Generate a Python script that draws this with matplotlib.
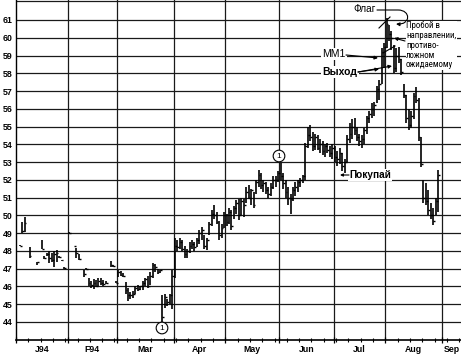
import numpy as np
import pandas as pd
import matplotlib
matplotlib.use("Agg")
import matplotlib.pyplot as plt
from matplotlib.path import Path
from matplotlib.patches import FancyArrowPatch
from matplotlib import font_manager

nan = np.nan

# ---- data: daily bars indexed by trading day (weekdays from 3 Jan 1994) ----
high = [nan, 48.35, 49.6, 49.9, nan, 48.2, nan, nan, 47.4, nan,
        48.6, 47.7, 47.9, 48.0, 47.9, 48.0, 48.05, 47.7, 47.5, 47.1,
        nan, 49.05, nan, 48.3, 48.15, 47.8, nan, 46.95, 47.05, 46.5,
        46.3, 46.4, 46.35, 46.45, 46.5, 46.35, 46.3, nan, 47.45, 47.2,
        46.3, 46.95, 46.85, 46.75, 46.25, 45.9, 45.7, 45.75, 46.0, 46.1,
        46.05, 46.3, 46.5, 46.6, 46.8, 47.3, 47.25, 47.0, 46.95, 45.5,
        45.6, 45.3, 45.6, 46.9, 48.7, 48.6, 48.7, 48.6, 48.3, 48.1,
        48.5, 48.6, 48.5, 48.75, 49.2, 49.35, 48.9, 48.7, 49.6, 50.3,
        50.6, 50.2, 49.7, 49.5, 50.2, 50.1, 50.4, 50.3, 50.5, 50.85,
        50.9, 51.0, 50.9, 51.6, 51.7, 51.5, 51.3, 52.0, 52.55, 52.4,
        52.0, 51.9, 51.6, 51.8, 52.2, 52.2, 52.5, 52.95, 52.4, 52.0,
        51.6, 51.2, 51.6, 51.9, 52.0, 52.1, 52.3, 54.1, 55.0, 55.1,
        54.7, 54.6, 54.5, 54.3, 54.2, 54.0, 54.1, 53.9, 54.0, 53.9,
        53.6, 53.8, 53.5, 53.2, 54.5, 55.2, 55.4, 55.5, 55.0, 54.6,
        54.5, 54.9, 55.6, 55.9, 56.3, 56.4, 57.3, 57.6, 59.4, 59.7,
        61.1, 60.7, 60.4, 59.6, 59.4, 59.5, 58.8, 57.4, 56.8, 56.0,
        55.9, 56.9, 57.2, 56.6, 54.4, 52.0, 51.8, 51.4, 50.7, 50.4,
        51.0, 52.55]

low = [nan, 48.25, 49.0, 49.05, nan, 47.6, nan, nan, 47.2, nan,
       48.1, 47.55, 47.7, 47.3, 47.4, 47.1, 47.35, 47.6, 47.45, 47.0,
       nan, 48.97, nan, 48.25, 47.6, 47.5, nan, 46.55, 46.98, 46.0,
       45.9, 45.85, 45.95, 46.0, 46.1, 46.0, 46.15, nan, 47.1, 47.1,
       46.18, 46.55, 46.6, 46.55, 45.6, 45.2, 45.3, 45.35, 45.6, 45.75,
       45.8, 45.8, 46.0, 45.9, 46.1, 46.5, 46.8, 46.7, 46.75, 44.0,
       44.8, 44.9, 45.0, 44.7, 46.5, 48.0, 48.1, 48.0, 47.6, 47.6,
       47.9, 48.1, 48.0, 48.2, 48.4, 48.6, 48.1, 48.05, 48.9, 49.4,
       49.8, 49.5, 48.6, 48.7, 49.3, 49.4, 49.5, 49.2, 49.8, 50.1,
       49.75, 50.0, 49.9, 50.7, 50.9, 50.6, 50.4, 51.2, 51.6, 51.5,
       51.3, 51.2, 51.0, 51.1, 51.5, 51.6, 51.9, 52.0, 51.5, 51.0,
       50.6, 50.1, 50.8, 51.1, 51.3, 51.6, 51.8, 52.0, 53.8, 54.2,
       53.6, 53.7, 53.7, 53.5, 53.4, 53.3, 53.5, 53.3, 53.2, 53.0,
       52.8, 52.9, 52.5, 52.4, 53.0, 54.1, 54.3, 54.5, 54.2, 53.9,
       53.8, 54.0, 54.6, 55.2, 55.5, 55.6, 56.3, 56.5, 57.4, 58.3,
       59.4, 59.8, 59.3, 58.0, 58.1, 58.6, 57.9, 56.6, 55.2, 54.8,
       54.9, 55.4, 56.3, 54.2, 52.7, 50.7, 50.6, 50.0, 49.8, 49.45,
       50.0, 50.2]

close = [nan, 48.3, 49.1, 49.55, nan, 47.7, nan, nan, 47.35, nan,
         48.1, 47.6, 47.8, 47.6, 47.5, 47.8, 47.9, 47.65, 47.5, 47.05,
         nan, 49.0, nan, 48.3, 47.9, 47.55, nan, 46.7, 47.0, 46.2,
         46.1, 46.2, 46.0, 46.3, 46.2, 46.15, 46.2, nan, 47.2, 47.15,
         46.2, 46.8, 46.65, 46.6, 45.8, 45.5, 45.5, 45.6, 45.9, 45.85,
         46.0, 46.2, 46.4, 46.0, 46.6, 47.2, 47.1, 46.8, 46.9, 44.3,
         45.4, 45.1, 45.5, 46.6, 48.3, 48.2, 48.5, 48.1, 47.8, 48.0,
         48.3, 48.4, 48.2, 48.6, 49.0, 49.2, 48.3, 48.6, 49.5, 50.1,
         50.0, 49.6, 48.9, 49.3, 50.0, 49.6, 50.2, 49.4, 50.4, 50.7,
         50.0, 50.8, 50.6, 51.3, 51.0, 51.4, 50.6, 51.9, 52.3, 51.7,
         51.8, 51.4, 51.2, 51.6, 52.0, 52.0, 52.4, 52.2, 51.8, 51.3,
         51.0, 50.9, 51.4, 51.6, 51.9, 52.0, 52.2, 53.9, 54.5, 54.4,
         53.9, 54.4, 53.8, 54.0, 53.6, 53.9, 53.7, 53.5, 53.8, 53.3,
         53.2, 53.5, 52.8, 53.0, 54.3, 54.6, 55.0, 54.8, 54.4, 54.2,
         54.3, 54.8, 55.5, 55.7, 56.0, 56.2, 57.1, 57.4, 59.2, 59.5,
         60.8, 60.2, 60.0, 58.3, 59.0, 58.8, 58.1, 56.8, 55.5, 55.1,
         55.6, 56.7, 56.5, 54.4, 52.9, 51.0, 50.8, 50.3, 50.0, 49.7,
         50.8, 52.3]

month_labels = ["J94", "F94", "Mar", "Apr", "May", "Jun", "Jul", "Aug", "Sep"]
price_ticks = list(range(44, 62))

# ---- figure ----
W, H = 461, 358
fig = plt.figure(figsize=(W / 100, H / 100), dpi=100)
ax = fig.add_axes([16 / W, 18 / H, (W - 16) / W, 340 / H])

S = 2.462        # px per trading day
PU = 17.76       # px per price unit


def X(px):
    return (px - 16) / S - 0.5


def Y(py):
    return 61 - (py - 20) / PU


ax.set_xlim(X(16), X(W))
ax.set_ylim(Y(340), Y(0))

names = {f.name for f in font_manager.fontManager.ttflist}
base = "Liberation Sans" if "Liberation Sans" in names else "DejaVu Sans"
narrow = None
for cand in ["Liberation Sans Narrow", "Roboto Condensed", "DejaVu Sans Condensed",
             "Open Sans Condensed", "Noto Sans Condensed"]:
    if cand in names:
        narrow = cand
        break
if narrow is None:
    narrow_family, narrow_size = base, 5.45
else:
    narrow_family, narrow_size = narrow, 6.4

hi = np.array(high, float)
lo = np.array(low, float)
cl = np.array(close, float)
idx = np.arange(len(hi))
ok = ~np.isnan(hi)

# grid
for p in price_ticks:
    ax.axhline(p, color="#1a1a1a", lw=0.9, zorder=1)

dates = pd.bdate_range("1994-01-03", periods=200)
months = dates.month
starts = [0] + [i for i in range(1, len(dates)) if months[i] != months[i - 1]]
starts = starts[:10]
bounds = [s - 0.5 for s in starts]
for b in bounds[1:]:
    if b < X(W):
        ax.axvline(b, color="#1a1a1a", lw=0.9, zorder=1)

centers = []
for k in range(len(month_labels)):
    a = bounds[k]
    b = min(bounds[k + 1], X(W)) if k + 1 < len(bounds) else X(W)
    centers.append((a + b) / 2)

# bars
ax.vlines(idx[ok], lo[ok], hi[ok], color="black", lw=1.2, zorder=3)
ax.hlines(cl[ok], idx[ok], idx[ok] + 0.75, color="black", lw=1.0, zorder=3)

# axes styling
for sp in ["top", "right"]:
    ax.spines[sp].set_visible(False)
ax.spines["left"].set_linewidth(1.0)
ax.spines["bottom"].set_linewidth(1.2)
ax.axhline(Y(0.6), color="#1a1a1a", lw=0.9)

ax.set_yticks(price_ticks)
ax.set_yticklabels([str(p) for p in price_ticks], fontsize=6.3,
                   fontweight="bold", family=base)
ax.tick_params(axis="y", length=0, pad=2.5)

ax.set_xticks([b for b in bounds if b < X(W)])
ax.set_xticklabels([])
ax.tick_params(axis="x", which="major", length=5, width=0.9, direction="inout")
mondays = [i - 0.5 for i in range(0, 181) if dates[i].weekday() == 0]
ax.set_xticks([m for m in mondays if m not in bounds], minor=True)
ax.tick_params(axis="x", which="minor", length=3, width=0.8, direction="inout")
for c, lab in zip(centers, month_labels):
    ax.text(c, Y(349), lab, ha="center", va="center", fontsize=6.3,
            fontweight="bold", family=base, clip_on=False)

# ---- annotations ----
def circ(px, py):
    ax.text(X(px), Y(py), "1", ha="center", va="center", fontsize=6,
            family=base, zorder=5,
            bbox=dict(boxstyle="circle,pad=0.28", fc="white", ec="black", lw=0.8))


circ(162, 328)
circ(279, 156)

ax.text(X(365), Y(9), "Флаг", ha="center", va="center", fontsize=7.2,
        family=base, zorder=5)
verts = [(X(377), Y(10)), (X(398), Y(10)), (X(411), Y(10)),
         (X(411), Y(25)), (X(396), Y(24))]
codes = [Path.MOVETO, Path.LINETO, Path.CURVE4, Path.CURVE4, Path.CURVE4]
ax.add_patch(FancyArrowPatch(path=Path(verts, codes), arrowstyle="-|>",
                             mutation_scale=5, lw=0.8, color="black", zorder=5))

# flag boundaries
ax.plot([X(379), X(390)], [Y(28), Y(17)], color="black", lw=0.8, zorder=4)
ax.plot([X(383), X(395)], [Y(53), Y(46)], color="black", lw=0.8, zorder=4)

ax.text(X(406), Y(21), "Пробой в\nнаправлении,\nпротиво-\nложном\nожидаемому",
        ha="left", va="top", fontsize=narrow_size, family=narrow_family,
        linespacing=1.35 if narrow is None else 1.12,
        zorder=5, bbox=dict(boxstyle="square,pad=0.05", fc="white", ec="none"))
ax.annotate("", xy=(X(394), Y(38)), xytext=(X(405), Y(41)),
            arrowprops=dict(arrowstyle="-|>", lw=0.8, color="black",
                            mutation_scale=5, shrinkA=0, shrinkB=0), zorder=5)

ax.text(X(334), Y(54), "ММ1", ha="center", va="center", fontsize=7.5,
        family=base, zorder=5,
        bbox=dict(boxstyle="square,pad=0.1", fc="white", ec="none"))
ax.annotate("", xy=(X(378), Y(58)), xytext=(X(346), Y(55)),
            arrowprops=dict(arrowstyle="-|>", lw=0.8, color="black",
                            mutation_scale=5, shrinkA=0, shrinkB=0), zorder=5)

ax.text(X(340), Y(72), "Выход", ha="center", va="center", fontsize=7.5,
        fontweight="bold", family=base, zorder=5,
        bbox=dict(boxstyle="square,pad=0.1", fc="white", ec="none"))
for tx, ty in [(379, 69), (392, 66)]:
    ax.annotate("", xy=(X(tx), Y(ty)), xytext=(X(358), Y(72)),
                arrowprops=dict(arrowstyle="-|>", lw=0.8, color="black",
                                mutation_scale=5, shrinkA=0, shrinkB=0), zorder=5)

ax.text(X(349), Y(175), "Покупай", ha="left", va="center", fontsize=7.2,
        fontweight="bold", family=base, zorder=5,
        bbox=dict(boxstyle="square,pad=0.1", fc="white", ec="none"))
ax.annotate("", xy=(X(340), Y(175)), xytext=(X(349), Y(175)),
            arrowprops=dict(arrowstyle="-|>", lw=0.8, color="black",
                            mutation_scale=4, shrinkA=0, shrinkB=0), zorder=5)

fig.savefig("out.png", dpi=100)
